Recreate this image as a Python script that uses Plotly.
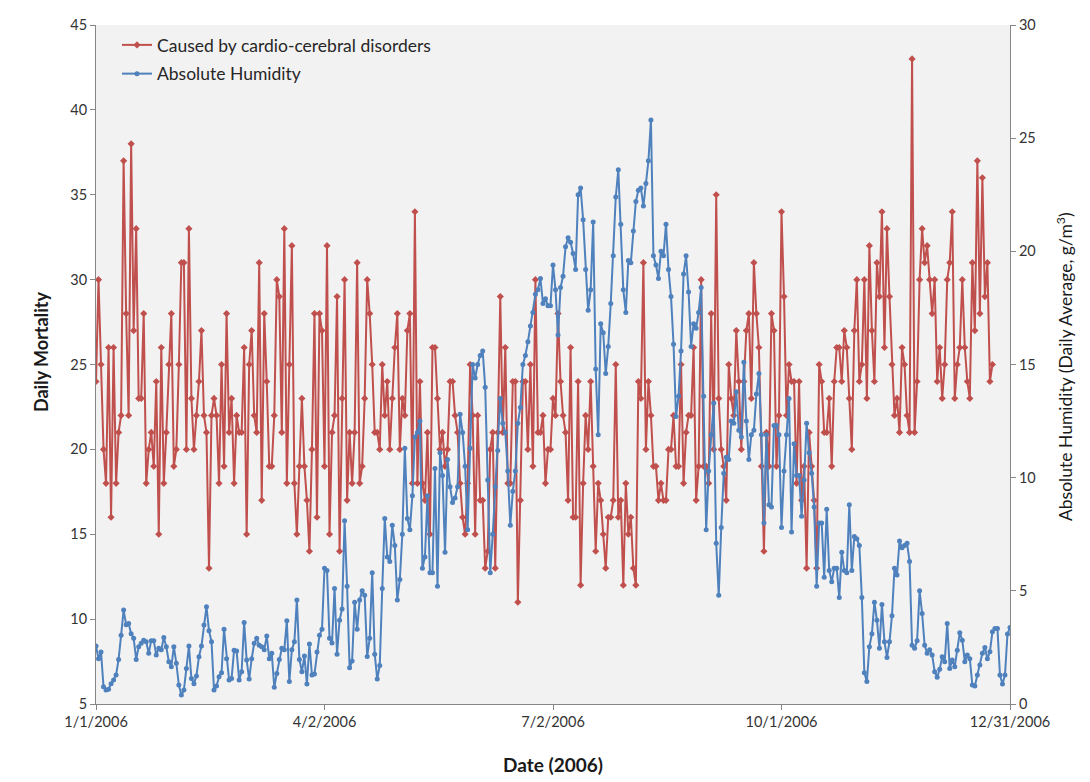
import pandas as pd
import plotly.graph_objects as go

# Daily mortality caused by cardio-cerebral disorders (left axis)
mortality = [
    24,30,25,20,18,26,16,26,18,21,22,37,28,22,38,27,33,23,23,28,18,20,21,19,24,15,26,18,21,25,28,19,20,25,31,31,20,33,23,20,22,24,27,22,21,13,
    22,
    23,22,18,25,19,28,21,23,18,22,21,21,26,15,25,27,22,21,31,17,28,24,19,19,22,30,29,21,33,18,25,32,18,15,19,23,19,17,14,20,28,16,28,27,19,
    32,15,21,22,29,14,23,30,17,21,18,21,31,18,19,23,30,28,25,21,21,20,25,22,24,20,23,26,28,20,23,22,27,28,18,34,18,24,18,17,21,15,26,26,23,
    20,21,19,20,24,24,22,21,18,16,15,18,25,22,15,22,17,17,13,14,20,21,13,21,29,21,26,18,18,24,24,11,17,24,24,20,25,19,30,21,21,22,18,20,20,23,
    22,28,24,22,21,17,26,16,16,24,12,18,22,20,24,19,14,18,17,15,13,16,16,17,25,16,17,12,18,15,16,13,12,24,23,31,20,24,22,19,19,17,18,17,17,20,
    20,22,19,19,25,18,21,22,22,26,17,19,30,19,19,18,28,20,35,23,20,19,17,25,23,22,27,24,20,24,27,28,23,31,28,26,19,14,21,19,28,27,19,22,34,29,22,25,
    24,24,18,24,17,19,13,21,19,17,13,25,24,21,21,23,19,24,26,26,24,27,26,23,20,27,30,24,25,30,23,32,27,24,31,29,34,26,33,29,25,22,23,21,26,
    25,22,21,43,21,24,30,33,31,32,30,28,30,24,26,23,25,30,31,34,23,25,26,30,26,24,23,31,27,37,28,36,29,31,24,25,
]

# Absolute humidity, daily average g/m3 (right axis)
humidity = [
    2.56,2.0,2.3,0.76,0.62,0.65,0.9,1.06,1.28,1.97,3.04,4.15,3.5,3.56,3.1,2.9,1.97,2.53,2.68,2.82,
    2.75,2.24,2.8,2.8,2.16,2.46,2.4,2.94,2.53,1.87,1.65,2.53,1.8,0.84,0.4,0.62,1.57,2.56,1.13,0.9,
    1.24,2.09,2.56,3.49,4.3,3.24,2.75,0.62,0.79,1.2,1.38,3.3,2.0,1.06,1.13,2.38,2.34,1.06,1.43,3.6,
    1.94,1.1,2.0,2.68,2.9,2.6,2.53,2.4,3.0,2.0,2.24,0.74,1.35,1.97,2.46,2.4,3.68,0.99,2.4,2.75,
    4.6,1.97,1.43,2.12,0.88,2.65,1.28,1.32,2.3,3.04,3.3,
    6.0,
    5.9,2.9,2.7,5.1,2.2,3.7,4.2,8.1,5.2,1.6,1.9,4.5,3.3,4.6,5.0,4.8,2.1,2.9,5.8,2.2,
    1.1,1.7,5.1,8.2,6.5,6.3,7.9,7.0,4.6,5.5,7.5,11.3,8.2,7.7,9.2,11.8,12.0,12.5,6.0,6.5,
    9.2,5.8,5.8,10.4,5.2,11.1,
    10.1,6.7,10.8,9.6,8.9,9.1,9.6,12.8,12.0,10.5,7.7,11.3,15.0,14.4,15.0,15.4,15.6,14.0,9.9,5.8,
    7.5,9.6,11.2,13.5,12.4,12.0,10.3,7.9,9.4,10.3,12.4,13.1,15.0,15.4,16.0,16.7,17.3,18.1,18.3,18.8,
    17.7,17.9,17.6,17.6,19.4,
    18.3,16.3,18.4,18.9,20.2,20.6,20.4,19.9,19.2,22.5,22.8,21.4,19.2,17.4,18.3,21.3,14.8,11.9,16.8,16.4,
    14.6,15.8,17.7,19.8,22.4,23.6,21.2,18.3,17.3,19.6,19.5,20.9,22.2,22.7,22.8,22.0,23.0,24.0,25.8,19.8,
    19.4,18.8,20.0,19.8,21.2,19.2,
    18.0,
    15.9,12.7,13.6,15.6,19.0,19.8,18.2,15.8,16.8,16.6,17.3,18.4,13.6,7.7,10.3,11.9,13.3,7.1,4.8,7.8,
    10.2,10.9,10.8,12.5,12.4,13.8,12.1,11.8,15.1,12.5,10.8,11.9,12.1,13.7,14.6,11.9,8.0,11.9,8.8,8.7,
    12.3,12.3,11.9,7.8,10.3,
    11.9,13.5,7.6,11.5,10.1,10.1,8.3,9.9,12.4,11.1,10.2,8.7,5.2,8.0,8.0,5.6,8.6,5.9,5.4,6.0,
    6.0,4.7,6.7,5.9,5.8,8.8,5.9,7.4,7.3,7.0,4.7,1.38,0.99,2.53,3.1,4.5,3.7,2.46,4.4,2.75,
    2.06,2.75,3.9,6.0,5.7,
    7.2,6.9,7.0,7.1,6.3,
    2.6,2.46,2.8,5.0,4.0,2.6,2.24,2.4,2.16,1.43,1.18,1.53,2.09,1.87,3.56,1.57,1.94,1.65,2.38,3.15,
    2.82,1.87,2.16,2.0,0.84,0.79,1.28,1.72,2.24,2.5,2.0,2.31,3.19,3.34,3.34,1.28,0.88,1.28,3.09,3.38,
]

tick_dates = ["2006-01-01", "2006-04-02", "2006-07-02", "2006-10-01", "2006-12-31"]
tick_labels = ["1/1/2006", "4/2/2006", "7/2/2006", "10/1/2006", "12/31/2006"]

mort_dates = pd.date_range("2006-01-01", periods=len(mortality), freq="D")
hum_dates = pd.date_range("2006-01-01", periods=len(humidity), freq="D")

RED = "#C0504D"
BLUE = "#4F81BD"
AXIS = "#868686"
TXT = "#333333"
FONT = "Lato"

fig = go.Figure()
fig.add_trace(go.Scatter(
    x=mort_dates, y=mortality, name="Caused by cardio-cerebral disorders",
    mode="lines+markers", line=dict(color=RED, width=2),
    marker=dict(symbol="diamond", size=5.5, color=RED),
    legendgroup="a", yaxis="y",
))
fig.add_trace(go.Scatter(
    x=hum_dates, y=humidity, name="Absolute Humidity",
    mode="lines+markers", line=dict(color=BLUE, width=2),
    marker=dict(symbol="circle", size=5, color=BLUE),
    legendgroup="b", yaxis="y2",
))

L, R, T, B = 96, 1010, 25, 704
W, H = 1090, 782

def px_x(p):
    return (p - L) / (R - L)

def px_y(p):
    return (B - p) / (B - T)

fig.update_layout(
    width=W, height=H,
    margin=dict(l=L, r=W - R, t=T, b=H - B, pad=0),
    paper_bgcolor="white", plot_bgcolor="#F2F2F2",
    font=dict(family=FONT, size=14, color=TXT),
    showlegend=True,
    legend=dict(
        x=px_x(117), y=px_y(27), xanchor="left", yanchor="top",
        bgcolor="rgba(0,0,0,0)", borderwidth=0,
        font=dict(family=FONT, size=17.5, color="#262626"),
        traceorder="grouped", tracegroupgap=3,
    ),
    xaxis=dict(
        type="date", range=["2006-01-01", "2006-12-31"],
        tickvals=tick_dates, ticktext=tick_labels,
        showline=True, linecolor=AXIS, linewidth=1,
        ticks="outside", ticklen=5, tickcolor=AXIS,
        showgrid=False, zeroline=False,
        tickfont=dict(family=FONT, size=14.5, color=TXT),
    ),
    yaxis=dict(
        range=[5, 45], tickvals=[5, 10, 15, 20, 25, 30, 35, 40, 45],
        showline=True, linecolor=AXIS, linewidth=1,
        ticks="outside", ticklen=5, tickcolor=AXIS,
        showgrid=False, zeroline=False,
        tickfont=dict(family=FONT, size=14.5, color=TXT),
    ),
    yaxis2=dict(
        range=[0, 30], tickvals=[0, 5, 10, 15, 20, 25, 30],
        overlaying="y", side="right",
        showline=True, linecolor=AXIS, linewidth=1,
        ticks="outside", ticklen=5, tickcolor=AXIS,
        showgrid=False, zeroline=False,
        tickfont=dict(family=FONT, size=14.5, color=TXT),
    ),
    annotations=[
        dict(text="<b>Daily Mortality</b>", xref="paper", yref="paper",
             x=px_x(41), y=px_y(352), xanchor="center", yanchor="middle",
             textangle=-90, showarrow=False,
             font=dict(family=FONT, size=18, color="#1a1a1a")),
        dict(text="<b>Date (2006)</b>", xref="paper", yref="paper",
             x=px_x(553), y=px_y(765), xanchor="center", yanchor="middle",
             showarrow=False,
             font=dict(family=FONT, size=19, color="#1a1a1a")),
        dict(text="Absolute Humidity (Daily Average, g/m<sup>3</sup>)",
             xref="paper", yref="paper",
             x=px_x(1064), y=px_y(367), xanchor="center", yanchor="middle",
             textangle=-90, showarrow=False,
             font=dict(family=FONT, size=17.5, color="#1a1a1a")),
    ],
)

fig.write_html("out.html")
